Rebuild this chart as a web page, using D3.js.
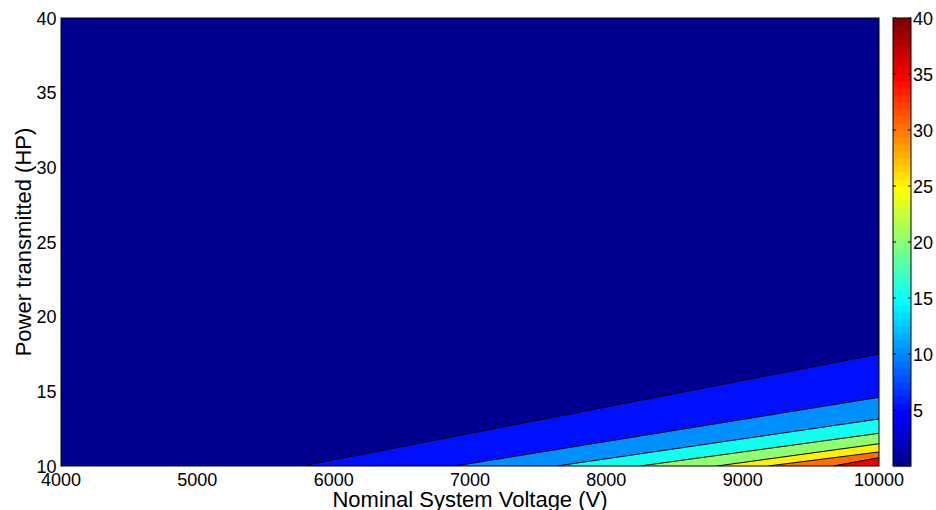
<!DOCTYPE html>
<html>
<head>
<meta charset="utf-8">
<script src="https://cdn.jsdelivr.net/npm/d3@7/dist/d3.min.js"></script>
<style>
  html, body { margin: 0; padding: 0; background: #fff; }
  svg { display: block; }
  text { font-family: "Liberation Sans", Arial, Helvetica, sans-serif; fill: #000; }
</style>
</head>
<body>
<svg id="chart" width="936" height="510"></svg>
<script>
// ---- data ----
const xDomain = [4000, 10000];
const yDomain = [10, 40];
const colorDomain = [0, 40];
const xTicks = [4000, 5000, 6000, 7000, 8000, 9000, 10000];
const yTicks = [10, 15, 20, 25, 30, 35, 40];
const colorTicks = [5, 10, 15, 20, 25, 30, 35, 40];
// contour levels (filled contour bands start at each level)
const levels = [5, 10, 15, 20, 25, 30, 35];
// voltage where each level crosses the bottom edge (P = 10 HP)
const bottomVoltage = [5766, 6890, 7636, 8247, 8812, 9186, 9663];
// power where each level crosses the right edge (V = 10000 V)
const rightPower = [17.50, 14.60, 13.15, 12.19, 11.49, 10.94, 10.56];

// ---- layout ----
const svg = d3.select("#chart");
const plot = { left: 61, right: 879, top: 18, bottom: 466 };
const cbar = { left: 893, right: 911, top: 18, bottom: 466 };

const x = d3.scaleLinear().domain(xDomain).range([plot.left, plot.right]);
const y = d3.scaleLinear().domain(yDomain).range([plot.bottom, plot.top]);
const cy = d3.scaleLinear().domain(colorDomain).range([cbar.bottom, cbar.top]);

// MATLAB jet colormap, 64 entries
const N = 64;
function jetColor(k) { // k is 1-based
  const c = v => Math.max(0, Math.min(1, v));
  const r = c(Math.min((k - 24) / 16, (72 - k) / 16));
  const g = c(Math.min((k - 8) / 16, (56 - k) / 16));
  const b = c(Math.min((k + 8) / 16, (40 - k) / 16));
  return d3.rgb(r * 255, g * 255, b * 255).formatHex();
}
const jet = d3.range(1, N + 1).map(jetColor);
function levelColor(v) {
  const t = (v - colorDomain[0]) / (colorDomain[1] - colorDomain[0]);
  const idx = Math.min(N - 1, Math.max(0, Math.floor(t * N)));
  return jet[idx];
}

// ---- filled contour ----
const clip = svg.append("defs").append("clipPath").attr("id", "plotclip")
  .append("rect")
  .attr("x", plot.left).attr("y", plot.top)
  .attr("width", plot.right - plot.left).attr("height", plot.bottom - plot.top);

const g = svg.append("g").attr("clip-path", "url(#plotclip)");
// lowest band (0..5) fills the whole area
g.append("rect")
  .attr("x", x(xDomain[0])).attr("y", y(yDomain[1]))
  .attr("width", x(xDomain[1]) - x(xDomain[0]))
  .attr("height", y(yDomain[0]) - y(yDomain[1]))
  .attr("fill", levelColor(colorDomain[0]));

const bands = levels.map((L, i) => ({
  level: L,
  pts: [[bottomVoltage[i], yDomain[0]], [xDomain[1], rightPower[i]], [xDomain[1], yDomain[0]]]
}));
const line = d3.line().x(d => x(d[0])).y(d => y(d[1]));

g.selectAll("path.band").data(bands).join("path")
  .attr("class", "band")
  .attr("d", d => line(d.pts) + "Z")
  .attr("fill", d => levelColor(d.level))
  .attr("stroke", "none");

g.selectAll("path.cline").data(bands).join("path")
  .attr("class", "cline")
  .attr("d", d => line(d.pts.slice(0, 2)))
  .attr("fill", "none")
  .attr("stroke", "#000")
  .attr("stroke-width", 1);

// plot box
svg.append("rect")
  .attr("x", plot.left).attr("y", plot.top)
  .attr("width", plot.right - plot.left).attr("height", plot.bottom - plot.top)
  .attr("fill", "none").attr("stroke", "#000").attr("stroke-width", 1);

// ---- axes labels ----
svg.selectAll("text.xtick").data(xTicks).join("text")
  .attr("class", "xtick")
  .attr("x", d => x(d)).attr("y", 486)
  .attr("text-anchor", "middle")
  .attr("font-size", 18)
  .text(d => d);

svg.selectAll("text.ytick").data(yTicks).join("text")
  .attr("class", "ytick")
  .attr("x", 56.5).attr("y", d => y(d) + 6.5)
  .attr("text-anchor", "end")
  .attr("font-size", 18)
  .text(d => d);

svg.append("text")
  .attr("x", (plot.left + plot.right) / 2).attr("y", 507)
  .attr("text-anchor", "middle")
  .attr("font-size", 22)
  .text("Nominal System Voltage (V)");

svg.append("text")
  .attr("transform", `translate(31, ${(plot.top + plot.bottom) / 2}) rotate(-90)`)
  .attr("text-anchor", "middle")
  .attr("font-size", 22)
  .text("Power transmitted (HP)");

// ---- colorbar ----
const step = (colorDomain[1] - colorDomain[0]) / N;
svg.append("g").selectAll("rect").data(jet).join("rect")
  .attr("x", cbar.left)
  .attr("y", (d, i) => cy(colorDomain[0] + (i + 1) * step))
  .attr("width", cbar.right - cbar.left)
  .attr("height", (d, i) => cy(colorDomain[0] + i * step) - cy(colorDomain[0] + (i + 1) * step) + 0.5)
  .attr("fill", d => d);

svg.append("g").selectAll("line").data(colorTicks).join("line")
  .attr("x1", cbar.left).attr("x2", cbar.left + 3)
  .attr("y1", d => cy(d)).attr("y2", d => cy(d))
  .attr("stroke", "#000").attr("stroke-width", 1);
svg.append("g").selectAll("line").data(colorTicks).join("line")
  .attr("x1", cbar.right - 3).attr("x2", cbar.right)
  .attr("y1", d => cy(d)).attr("y2", d => cy(d))
  .attr("stroke", "#000").attr("stroke-width", 1);

svg.append("rect")
  .attr("x", cbar.left).attr("y", cbar.top)
  .attr("width", cbar.right - cbar.left).attr("height", cbar.bottom - cbar.top)
  .attr("fill", "none").attr("stroke", "#000").attr("stroke-width", 1);

svg.selectAll("text.ctick").data(colorTicks).join("text")
  .attr("class", "ctick")
  .attr("x", 913).attr("y", d => cy(d) + 6.5)
  .attr("text-anchor", "start")
  .attr("font-size", 18)
  .text(d => d);
</script>
</body>
</html>
